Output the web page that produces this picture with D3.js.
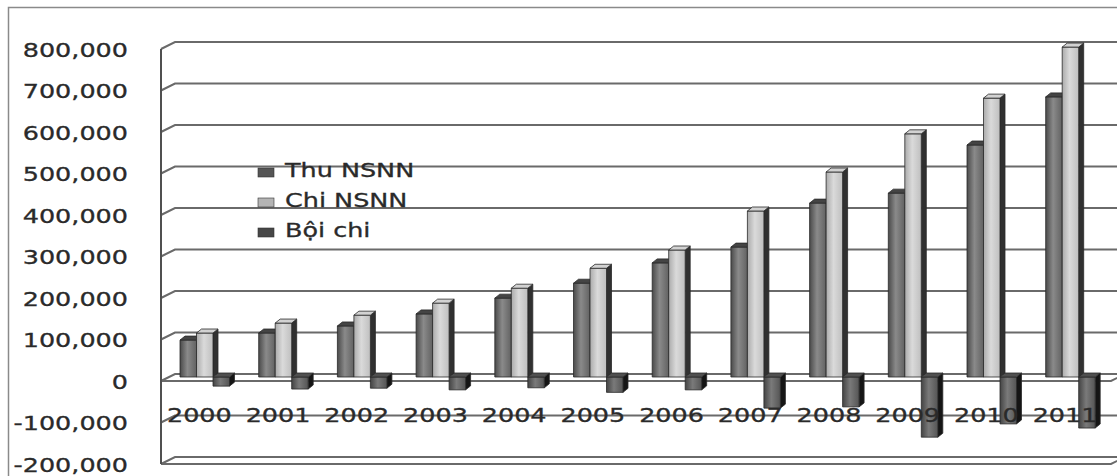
<!DOCTYPE html>
<html>
<head>
<meta charset="utf-8">
<script src="https://cdn.jsdelivr.net/npm/d3@7"></script>
<style>
  html, body { margin: 0; padding: 0; background: #fff; }
  svg { display: block; }
  text { font-family: "DejaVu Sans", Verdana, sans-serif; fill: #2a2a2a; stroke: #2a2a2a; stroke-width: 0.3px; }
</style>
</head>
<body>
<svg id="chart" width="1117" height="476"></svg>
<script>
// Vietnam state budget (tỷ đồng): revenue, expenditure, deficit
const years = ["2000", "2001", "2002", "2003", "2004", "2005", "2006", "2007", "2008", "2009", "2010", "2011"];
const thuNSNN = [89000, 106000, 123000, 152000, 190000, 226000, 275000, 313000, 419000, 443000, 559000, 675000];
const chiNSNN = [106000, 130000, 149000, 178000, 214000, 262000, 306000, 400000, 494000, 586000, 672000, 795000];
const boiChi = [-22000, -29000, -27000, -31000, -26000, -37000, -31000, -75000, -72000, -145000, -113000, -123000];
const seriesNames = ["Thu NSNN", "Chi NSNN", "Bội chi"];
const yTicks = [-200000, -100000, 0, 100000, 200000, 300000, 400000, 500000, 600000, 700000, 800000];

const svg = d3.select("#chart");
const STRETCH = 1.34;       // wide lettering
const WALL_DX = 14, WALL_DY = -7;   // depth of the back wall
const BAR_DY = -4;                  // bars sit mid-depth
const FACE_DX = 5, FACE_DY = -4;    // bar top/side faces

const y = d3.scaleLinear().domain([-200000, 800000]).range([464, 49]);
const x = d3.scaleBand().domain(years).range([171, 171 + 12 * 78.7]).padding(0);
const xs = d3.scaleBand().domain(seriesNames).range([9, 9 + 3 * 16.5]).padding(0);

const fmt = d3.formatLocale({ decimal: ".", thousands: ",", grouping: [3], currency: ["", ""], minus: "-" }).format(",");

// outer chart border
svg.append("rect").attr("x", 8.5).attr("y", 7.5).attr("width", 1130).attr("height", 490)
  .attr("fill", "none").attr("stroke", "#8a8a8a").attr("stroke-width", 1.5);

// gradients for cylinder-like shading of the front faces
const defs = svg.append("defs");
function grad(id, stops) {
  const g = defs.append("linearGradient").attr("id", id).attr("x1", "0").attr("x2", "1").attr("y1", "0").attr("y2", "0");
  stops.forEach(([o, c]) => g.append("stop").attr("offset", o).attr("stop-color", c));
}
grad("gThu", [[0, "#4a4a4a"], [0.45, "#8a8a8a"], [1, "#626262"]]);
grad("gChi", [[0, "#ababab"], [0.45, "#dadada"], [1, "#bfbfbf"]]);
grad("gBoi", [[0, "#444"], [0.45, "#7a7a7a"], [1, "#555"]]);

const style = {
  "Thu NSNN": { front: "url(#gThu)", top: "#444", side: "#2a2a2a", key: "#555" },
  "Chi NSNN": { front: "url(#gChi)", top: "#d2d2d2", side: "#303030", key: "#b4b4b4" },
  "Bội chi": { front: "url(#gBoi)", top: "#505050", side: "#151515", key: "#474747" }
};

// walls: gridlines on the back wall plus their slant on the side wall
const xFrontL = 161, xBackR = 1125, xFrontR = xBackR - WALL_DX;
const grid = svg.append("g").attr("stroke", "#6a6a6a").attr("stroke-width", 2).attr("fill", "none");
yTicks.forEach(v => {
  const yf = y(v), yb = y(v) + WALL_DY;
  grid.append("path").attr("d", `M${xFrontL},${yf}L${xFrontL + WALL_DX},${yb}L${xBackR},${yb}`);
});
// front edges of the zero plane and the floor
[0, -200000].forEach(v => {
  grid.append("path").attr("d", `M${xFrontL},${y(v)}L${xFrontR},${y(v)}L${xFrontR + WALL_DX},${y(v) + WALL_DY}`);
});
// vertical axis line
grid.append("line").attr("x1", xFrontL).attr("x2", xFrontL).attr("y1", y(800000)).attr("y2", y(-200000))
  .attr("stroke", "#505050");

// bars
const rows = years.map((yr, i) => ({ year: yr, values: [thuNSNN[i], chiNSNN[i], boiChi[i]] }));
const yb = v => y(v) + BAR_DY;
const bars = svg.append("g");
rows.forEach(r => {
  r.values.forEach((v, k) => {
    const name = seriesNames[k], s = style[name];
    const x0 = x(r.year) + xs(name), w = xs.bandwidth();
    const yTop = yb(Math.max(0, v)), yBot = yb(Math.min(0, v));
    const g = bars.append("g").attr("stroke", "#2a2a2a").attr("stroke-width", 0.8).attr("stroke-linejoin", "round");
    g.append("path").attr("fill", s.side)
      .attr("d", `M${x0 + w},${yTop}L${x0 + w + FACE_DX},${yTop + FACE_DY}L${x0 + w + FACE_DX},${yBot + FACE_DY}L${x0 + w},${yBot}Z`);
    g.append("rect").attr("x", x0).attr("y", yTop).attr("width", w).attr("height", Math.max(0, yBot - yTop)).attr("fill", s.front);
    g.append("path").attr("fill", s.top)
      .attr("d", `M${x0},${yTop}L${x0 + FACE_DX},${yTop + FACE_DY}L${x0 + w + FACE_DX},${yTop + FACE_DY}L${x0 + w},${yTop}Z`);
  });
});

function stretch(sel) {
  sel.each(function () {
    const w = this.getComputedTextLength();
    d3.select(this).attr("textLength", w * STRETCH).attr("lengthAdjust", "spacingAndGlyphs");
  });
}

// value axis
const yAxis = svg.append("g").attr("transform", `translate(${xFrontL},0)`)
  .call(d3.axisLeft(y).tickValues(yTicks).tickFormat(fmt).tickSize(0).tickPadding(33));
yAxis.select(".domain").remove();
yAxis.selectAll("text").attr("font-size", 19).attr("font-family", null).attr("fill", "#2a2a2a").attr("dy", "0.37em");
yAxis.selectAll("text").call(stretch);

// category axis (labels along the -100,000 level)
const xAxis = svg.append("g").attr("transform", "translate(-11,400)")
  .call(d3.axisBottom(x).tickSize(0).tickPadding(8.5));
xAxis.select(".domain").remove();
xAxis.selectAll("text").attr("font-size", 19).attr("font-family", null).attr("fill", "#2a2a2a");
xAxis.selectAll("text").call(stretch);

// legend
const legend = svg.append("g").attr("transform", "translate(258,177)");
seriesNames.forEach((name, i) => {
  const row = legend.append("g").attr("transform", `translate(0,${i * 30})`);
  row.append("rect").attr("x", 0).attr("y", -9).attr("width", 16).attr("height", 9)
    .attr("fill", style[name].key).attr("stroke", "#333").attr("stroke-width", 0.6);
  row.append("text").attr("x", 27).attr("y", 0).attr("font-size", 19).text(name).call(stretch);
});
</script>
</body>
</html>
